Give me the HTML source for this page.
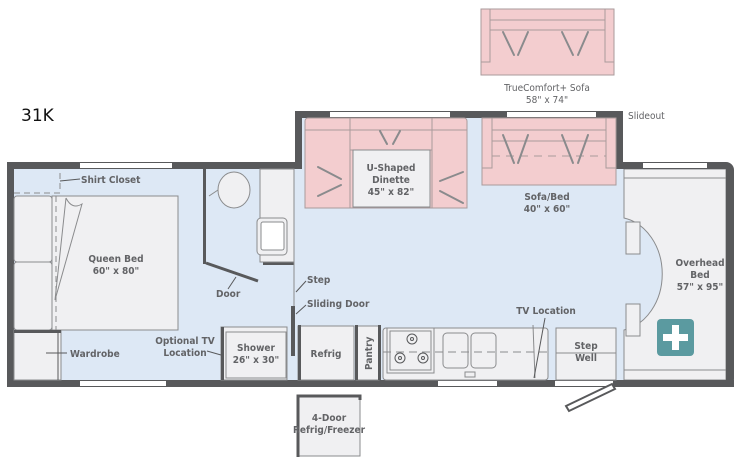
<!DOCTYPE html>
<html><head><meta charset="utf-8"><style>
html,body{margin:0;padding:0;background:#fff;}
svg{display:block;}
text{font-family:"DejaVu Sans Condensed","Liberation Sans",sans-serif;font-stretch:condensed;font-weight:bold;fill:#626366;font-size:10px;}
.c{text-anchor:middle;}
.n{font-weight:normal;}
</style></head><body>
<svg width="740" height="470" viewBox="0 0 740 470" xmlns="http://www.w3.org/2000/svg">
<!-- floor -->
<rect x="14" y="169" width="712" height="211" fill="#dde8f5"/>
<rect x="302" y="118" width="318" height="60" fill="#dde8f5"/>
<!-- overhead bed -->
<path d="M624 169 H726 V380 H624 V330 A47 57 0 0 0 624 218 Z" fill="#f0f0f2" stroke="#8a8b8d" stroke-width="1"/>
<line x1="624" y1="178" x2="726" y2="178" stroke="#8a8b8d"/>
<line x1="624" y1="370" x2="726" y2="370" stroke="#8a8b8d"/>
<path d="M626 222 h14 v32 h-14 z M626 304 h14 v32 h-14 z" fill="#f0f0f2" stroke="#8a8b8d"/>
<rect x="657" y="319" width="37" height="37" rx="4" fill="#5b9aa0"/>
<rect x="672" y="325" width="7" height="25" fill="#fff"/><rect x="663" y="334" width="25" height="7" fill="#fff"/>
<text class="c" x="700" y="266">Overhead</text><text class="c" x="700" y="278">Bed</text><text class="c" x="700" y="290">57" x 95"</text>
<!-- walls -->
<g fill="#58595b">
<rect x="7" y="162" width="295" height="7"/>
<rect x="7" y="162" width="7" height="225"/>
<rect x="7" y="380" width="727" height="7"/>
<rect x="295" y="111" width="328" height="7"/>
<rect x="295" y="111" width="7" height="58"/>
<rect x="616" y="111" width="7" height="58"/>
<path d="M616 162 H726 A8 8 0 0 1 734 170 V379 A8 8 0 0 1 726 387 H616 V380 H726 V169 H616 Z"/>
</g>
<g fill="#fff">
<rect x="80" y="163" width="92" height="5"/>
<rect x="80" y="381" width="86" height="5"/>
<rect x="330" y="112" width="120" height="5"/>
<rect x="507" y="112" width="89" height="5"/>
<rect x="643" y="163" width="64" height="5"/>
<rect x="438" y="381" width="59" height="5"/>
<rect x="555" y="381" width="58" height="5"/>
</g>
<!-- bedroom -->
<path d="M14 193 H60 V169" fill="none" stroke="#8a8b8d" stroke-dasharray="6,4"/>
<line x1="60" y1="181" x2="80" y2="179" stroke="#58595b"/>
<text x="81" y="183">Shirt Closet</text>
<rect x="14" y="196" width="38" height="66" rx="3" fill="#f0f0f2" stroke="#8a8b8d"/>
<rect x="14" y="262" width="38" height="68" rx="3" fill="#f0f0f2" stroke="#8a8b8d"/>
<rect x="52" y="196" width="126" height="134" fill="#f0f0f2" stroke="#8a8b8d"/>
<path d="M66 198 L55 300 L82 204 Q72 210 66 198" fill="#f0f0f2" stroke="#8a8b8d"/>
<line x1="56" y1="196" x2="56" y2="330" stroke="#8a8b8d" stroke-dasharray="6,4"/>
<text class="c" x="116" y="262">Queen Bed</text><text class="c" x="116" y="274">60" x 80"</text>
<rect x="14" y="330" width="47" height="50" fill="#f0f0f2" stroke="#8a8b8d"/>
<rect x="14" y="330" width="47" height="3" fill="#58595b"/>
<line x1="58" y1="333" x2="58" y2="380" stroke="#58595b"/>
<line x1="46" y1="353" x2="67" y2="353" stroke="#58595b"/>
<text x="70" y="357">Wardrobe</text>
<!-- bathroom -->
<rect x="203" y="169" width="91" height="95" fill="#dde8f5"/>
<rect x="203" y="169" width="3" height="95" fill="#58595b"/>
<rect x="263" y="262" width="31" height="3" fill="#58595b"/>
<rect x="260" y="169" width="34" height="93" fill="#f0f0f2" stroke="#8a8b8d"/>
<rect x="257" y="218" width="30" height="37" rx="4" fill="#f0f0f2" stroke="#8a8b8d"/>
<rect x="261" y="222" width="23" height="28" rx="2" fill="#fff" stroke="#8a8b8d"/>
<ellipse cx="234" cy="190" rx="16" ry="18" fill="#f0f0f2" stroke="#8a8b8d"/>
<line x1="209" y1="196" x2="218" y2="190" stroke="#8a8b8d"/>
<line x1="206" y1="263" x2="258" y2="281" stroke="#58595b" stroke-width="3"/>
<line x1="236" y1="277" x2="228" y2="289" stroke="#58595b"/>
<text x="216" y="297">Door</text>
<line x1="294" y1="169" x2="294" y2="320" stroke="#8a8b8d"/>
<text x="307" y="283">Step</text><line x1="296" y1="292" x2="306" y2="281" stroke="#58595b"/>
<rect x="291" y="306" width="4" height="50" fill="#58595b"/>
<text x="307" y="307">Sliding Door</text><line x1="296" y1="314" x2="306" y2="305" stroke="#58595b"/>
<!-- shower -->
<rect x="221" y="327" width="66" height="53" fill="#f0f0f2" stroke="#8a8b8d"/>
<rect x="221" y="327" width="3" height="53" fill="#58595b"/>
<rect x="226" y="332" width="60" height="46" fill="#f0f0f2" stroke="#8a8b8d"/>
<text class="c" x="256" y="351">Shower</text><text class="c" x="256" y="363">26" x 30"</text>
<text class="c" x="185" y="344">Optional TV</text><text class="c" x="185" y="356">Location</text>
<line x1="207" y1="351" x2="221" y2="355" stroke="#58595b"/>
<!-- kitchen -->
<rect x="298" y="326" width="56" height="54" fill="#f0f0f2" stroke="#8a8b8d"/>
<rect x="298" y="325" width="3" height="55" fill="#58595b"/>
<text class="c" x="326" y="357">Refrig</text>
<rect x="356" y="326" width="23" height="54" fill="#f0f0f2" stroke="#8a8b8d"/>
<rect x="355" y="325" width="3" height="55" fill="#58595b"/><rect x="378" y="325" width="3" height="55" fill="#58595b"/>
<text x="0" y="0" transform="translate(372,370) rotate(-90)">Pantry</text>
<rect x="383" y="328" width="165" height="52" rx="3" fill="#f0f0f2" stroke="#8a8b8d"/>
<rect x="387" y="328" width="47" height="45" fill="#f0f0f2" stroke="#8a8b8d"/>
<rect x="390" y="331" width="41" height="39" fill="none" stroke="#8a8b8d"/>
<g fill="none" stroke="#58595b"><circle cx="412" cy="339" r="5"/><circle cx="412" cy="339" r="1.5"/><circle cx="400" cy="358" r="5"/><circle cx="400" cy="358" r="1.5"/><circle cx="423" cy="358" r="5"/><circle cx="423" cy="358" r="1.5"/></g>
<rect x="443" y="333" width="25" height="35" rx="4" fill="none" stroke="#8a8b8d"/>
<rect x="471" y="333" width="25" height="35" rx="4" fill="none" stroke="#8a8b8d"/>
<rect x="465" y="372" width="10" height="5" fill="none" stroke="#8a8b8d"/>
<line x1="383" y1="352" x2="548" y2="352" stroke="#8a8b8d" stroke-dasharray="8,5"/>
<line x1="533" y1="325" x2="535" y2="378" stroke="#8a8b8d"/>
<line x1="545" y1="318" x2="534" y2="378" stroke="#58595b"/>
<text class="c" x="546" y="314">TV Location</text>
<rect x="556" y="328" width="60" height="52" fill="#f0f0f2" stroke="#8a8b8d"/>
<line x1="556" y1="353" x2="616" y2="353" stroke="#8a8b8d"/>
<text class="c" x="586" y="349">Step</text><text class="c" x="586" y="361">Well</text>
<path d="M566 406 L612 384 L615 389 L569 411 Z" fill="#fff" stroke="#58595b" stroke-width="2"/>
<!-- 4 door fridge -->
<rect x="298" y="396" width="62" height="60" fill="#f0f0f2" stroke="#8a8b8d"/>
<path d="M298 457 V396 H360 V400" fill="none" stroke="#58595b" stroke-width="3"/>
<text class="c" x="329" y="421">4-Door</text><text class="c" x="329" y="433">Refrig/Freezer</text>
<!-- dinette -->
<g fill="#f3cdcf" stroke="#a99a9b">
<rect x="305" y="118" width="162" height="90" rx="3"/>
<rect x="350" y="118" width="82" height="12"/>
<rect x="305" y="130" width="45" height="78"/>
<rect x="432" y="130" width="35" height="78"/>
<rect x="350" y="130" width="82" height="20"/>
<rect x="482" y="118" width="134" height="67"/>
<rect x="482" y="118" width="10" height="50"/><rect x="606" y="118" width="10" height="50"/>
<rect x="492" y="118" width="114" height="12"/><rect x="492" y="130" width="114" height="11"/>
<rect x="481" y="9" width="133" height="66"/>
<rect x="481" y="9" width="9" height="53"/><rect x="605" y="9" width="9" height="53"/>
<rect x="490" y="9" width="115" height="11"/><rect x="490" y="20" width="115" height="10"/>
</g>
<rect x="353" y="150" width="77" height="57" fill="#f0f0f2" stroke="#8a8b8d"/>
<text class="c" x="391" y="171">U-Shaped</text><text class="c" x="391" y="183">Dinette</text><text class="c" x="391" y="195">45" x 82"</text>
<line x1="492" y1="156" x2="606" y2="156" stroke="#a99a9b" stroke-dasharray="8,6"/>
<g stroke="#8a8b8d" stroke-width="2" stroke-linecap="round">
<line x1="380" y1="131" x2="387" y2="144"/><line x1="400" y1="131" x2="393" y2="144"/>
<line x1="318" y1="167" x2="341" y2="179"/><line x1="318" y1="196" x2="341" y2="185"/>
<line x1="463" y1="172" x2="440" y2="181"/><line x1="463" y1="203" x2="440" y2="191"/>
<line x1="503" y1="135" x2="514" y2="163"/><line x1="528" y1="135" x2="518" y2="163"/>
<line x1="562" y1="135" x2="573" y2="163"/><line x1="588" y1="135" x2="578" y2="163"/>
<line x1="503" y1="32" x2="514" y2="55"/><line x1="528" y1="32" x2="518" y2="55"/>
<line x1="562" y1="32" x2="573" y2="55"/><line x1="588" y1="32" x2="578" y2="55"/>
</g>
<text class="c n" x="547" y="91">TrueComfort+ Sofa</text>
<text class="c n" x="547" y="103">58" x 74"</text>
<text class="n" x="628" y="119">Slideout</text>
<text class="c" x="547" y="200">Sofa/Bed</text><text class="c" x="547" y="212">40" x 60"</text>
<text x="21" y="121" style="font-family:'DejaVu Sans',sans-serif;font-stretch:normal;font-weight:normal;font-size:17px;fill:#111">31K</text>
</svg>
</body></html>
